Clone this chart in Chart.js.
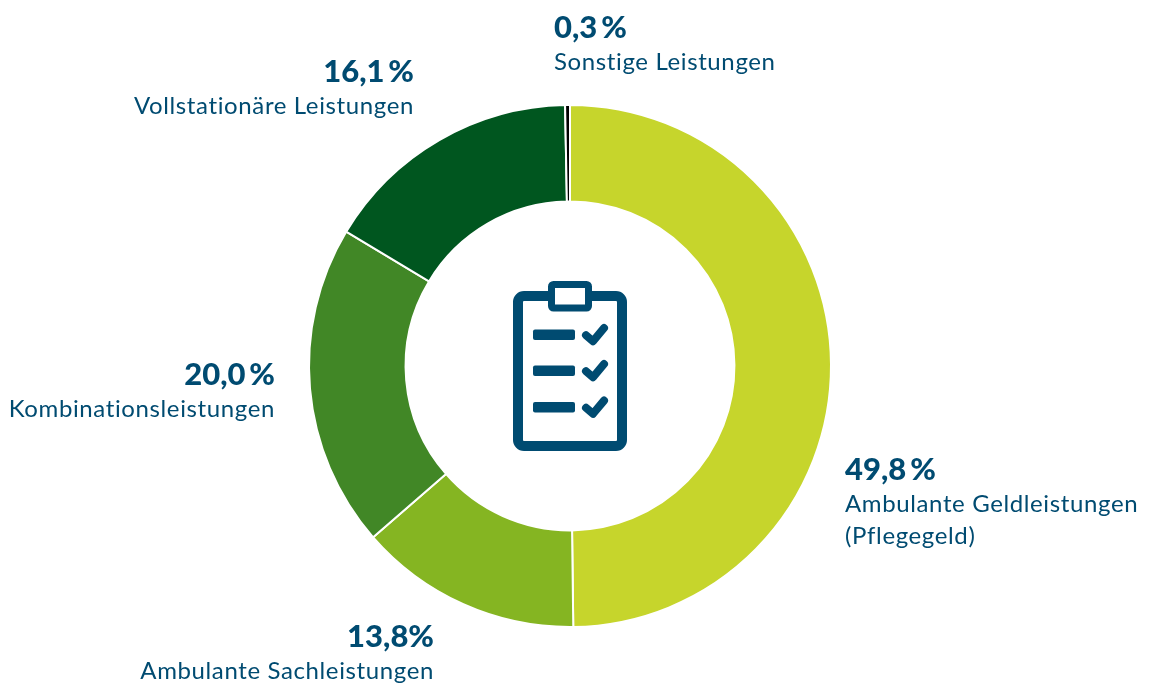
<!DOCTYPE html>
<html><head><meta charset="utf-8">
<script src="https://cdn.jsdelivr.net/npm/chart.js@4"></script>
<style>
html,body{margin:0;padding:0;background:#fff;overflow:hidden}
#wrap{position:relative;width:1152px;height:684px}
canvas{position:absolute;left:0;top:0}
</style></head><body>
<div id="wrap"><canvas id="c" width="1152" height="684"></canvas></div>
<script>
const categories = ["Ambulante Geldleistungen (Pflegegeld)","Ambulante Sachleistungen","Kombinationsleistungen","Vollstationäre Leistungen","Sonstige Leistungen"];
const shares = [49.8,13.8,20.0,16.1,0.3];
const shareLabels = ["49,8\u2009%","13,8%","20,0\u2009%","16,1\u2009%","0,3\u2009%"];
const labelLines = [["Ambulante Geldleistungen","(Pflegegeld)"],["Ambulante Sachleistungen"],["Kombinationsleistungen"],["Vollstationäre Leistungen"],["Sonstige Leistungen"]];
const sliceColors = ["#c6d52c","#85b522","#418726","#00561f","#000000"];
const labelAnchors = [[845,"left",480],[434,"right",647],[275,"right",385],[414,"right",82],[554,"left",38]];
const INK = "#004b71";

const labelsPlugin = {
  id:"labelsPlugin",
  afterDraw(chart){
    const ctx = chart.ctx;
    ctx.save();
    ctx.fillStyle = INK;
    ctx.textBaseline = "alphabetic";
    labelAnchors.forEach((a,i)=>{
      ctx.textAlign = a[1];
      ctx.font = '900 31px Lato';
      ctx.letterSpacing = "0px";
      ctx.fillText(shareLabels[i], a[0], a[2]);
      ctx.font = '400 24px Lato';
      ctx.letterSpacing = "0.62px";
      labelLines[i].forEach((t,j)=>ctx.fillText(t, a[0], a[2]+32+j*32));
    });
    ctx.restore();
    // clipboard icon in the ring's centre
    ctx.save();
    ctx.strokeStyle = INK; ctx.fillStyle = INK; ctx.lineJoin="round"; ctx.lineCap="round";
    ctx.lineWidth = 10;
    ctx.beginPath(); ctx.roundRect(518,296,104,150,6); ctx.stroke();
    ctx.fillStyle="#fff"; ctx.lineWidth=7;
    ctx.beginPath(); ctx.roundRect(551.5,284.5,37,23.5,2); ctx.fill(); ctx.stroke();
    ctx.fillStyle = INK;
    [334.7,370.7,407.3].forEach(y=>{
      ctx.beginPath(); ctx.roundRect(533,y-5.3,42,10.6,2); ctx.fill();
      ctx.lineWidth=8;
      ctx.beginPath(); ctx.moveTo(586,y+0.5); ctx.lineTo(593,y+6.5); ctx.lineTo(604,y-6.7); ctx.stroke();
    });
    ctx.restore();
  }
};

new Chart(document.getElementById("c"),{
  type:"doughnut",
  data:{labels:categories,datasets:[{data:shares,backgroundColor:sliceColors,borderColor:"#ffffff",borderWidth:2}]},
  options:{
    responsive:false,animation:false,cutout:"63%",
    layout:{padding:{left:308,top:104,right:320,bottom:56}},
    plugins:{legend:{display:false},tooltip:{enabled:false}}
  },
  plugins:[labelsPlugin]
});
</script>
</body></html>
